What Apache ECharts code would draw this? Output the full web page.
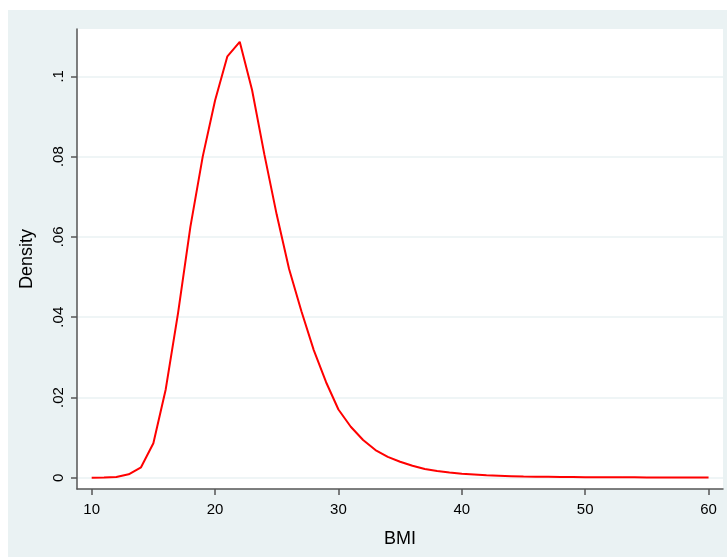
<!DOCTYPE html>
<html>
<head>
<meta charset="utf-8">
<script src="https://cdn.jsdelivr.net/npm/echarts@6/dist/echarts.min.js"></script>
<style>
html,body{margin:0;padding:0;background:#ffffff;}
#chart{position:absolute;left:8px;top:10px;width:719px;height:547px;}
</style>
</head>
<body>
<div id="chart"></div>
<script>
const bmi = [10,11,12,13,14,15,16,17,18,19,20,21,22,23,24,25,26,27,28,29,30,31,32,33,34,35,36,37,38,39,40,41,42,43,44,45,46,47,48,49,50,51,52,53,54,55,56,57,58,59,60];
const density = [0.00002,0.00006,0.0002,0.00085,0.0026,0.0086,0.0220,0.0410,0.0625,0.0800,0.0940,0.1050,0.1086,0.0966,0.0805,0.0655,0.0520,0.0415,0.0318,0.0238,0.0170,0.0127,0.0094,0.0069,0.0052,0.0040,0.0030,0.0022,0.0017,0.0013,0.0010,0.0008,0.0006,0.0005,0.0004,0.0003,0.00027,0.00024,0.00021,0.00018,0.00015,0.00013,0.00012,0.00011,0.0001,0.00009,0.00008,0.00007,0.00006,0.00005,0.00004];
const xTicks = [10,20,30,40,50,60];
const yTicks = [0,0.02,0.04,0.06,0.08,0.1];

const chart = echarts.init(document.getElementById('chart'));
const axisColor = '#555555';
const fontFam = 'Liberation Sans, Arial, sans-serif';
function stataFmt(v){
  let s = String(Math.round(v*1000)/1000);
  if (s.startsWith('0.')) s = s.slice(1);
  return s;
}
chart.setOption({
  backgroundColor: '#EAF2F3',
  animation: false,
  grid: {
    left: 69, top: 19, right: 4, bottom: 68,
    show: true, backgroundColor: '#ffffff', borderWidth: 0
  },
  xAxis: {
    type: 'value', min: 8.81, max: 61.17,
    name: 'BMI', nameLocation: 'middle', nameGap: 41,
    nameTextStyle: {fontSize: 18, color: '#000', fontFamily: fontFam},
    axisLine: {show: true, onZero: false, lineStyle: {color: axisColor, width: 1.5}},
    axisTick: {show: true, length: 6, customValues: xTicks, lineStyle: {color: axisColor, width: 1.5}},
    axisLabel: {customValues: xTicks, fontSize: 15, color: '#000', fontFamily: fontFam, margin: 13},
    splitLine: {show: false}
  },
  yAxis: {
    type: 'value', min: -0.0028, max: 0.1118,
    name: 'Density', nameLocation: 'middle', nameGap: 41,
    nameTextStyle: {fontSize: 18, color: '#000', fontFamily: fontFam},
    axisLine: {show: true, onZero: false, lineStyle: {color: axisColor, width: 1.5}},
    axisTick: {show: true, length: 6, customValues: yTicks, lineStyle: {color: axisColor, width: 1.5}},
    axisLabel: {customValues: yTicks, rotate: 90, fontSize: 15, color: '#000', fontFamily: fontFam, margin: 11,
      formatter: stataFmt},
    splitLine: {show: true, lineStyle: {color: '#EAF2F3', width: 1.5}}
  },
  series: [{
    type: 'line',
    data: bmi.map((b,i)=>[b, density[i]]),
    showSymbol: false,
    lineStyle: {color: '#ff0000', width: 2},
    itemStyle: {color: '#ff0000'}
  }]
});
</script>
</body>
</html>
